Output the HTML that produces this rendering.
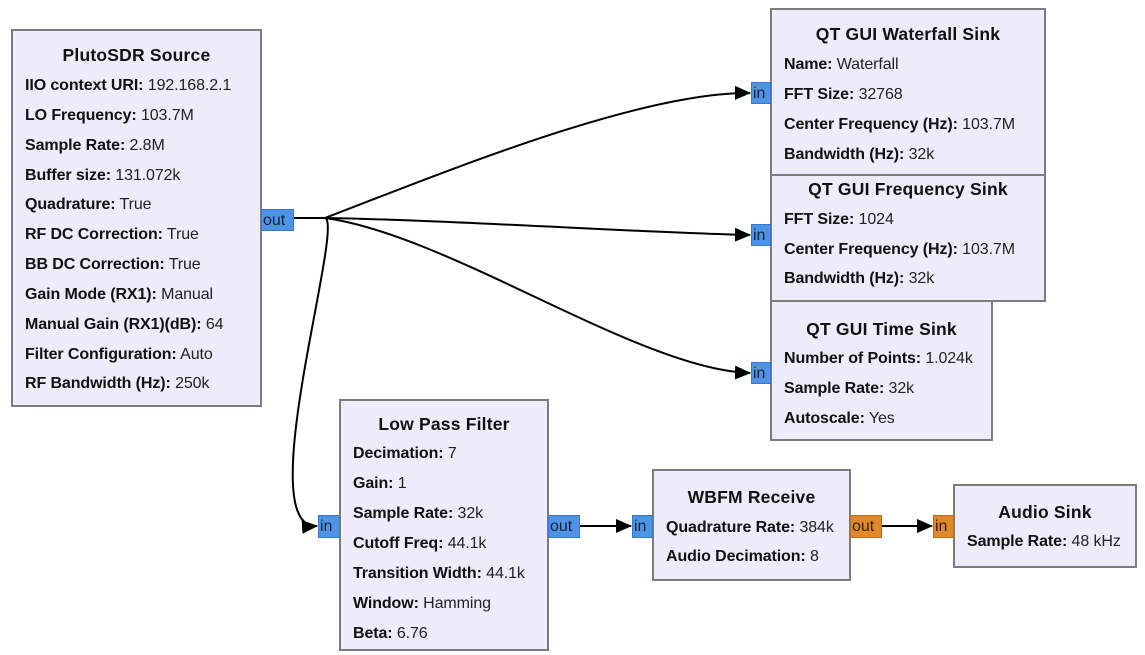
<!DOCTYPE html>
<html><head><meta charset="utf-8"><style>
body{margin:0;width:1145px;height:655px;background:#fff;position:relative;overflow:hidden;font-family:"Liberation Sans",sans-serif;color:#111}
.b{position:absolute;background:#eeebfb;border:2px solid #7c7c7c;box-sizing:border-box}
.t{position:absolute;left:0;right:0;text-align:center;font-weight:bold;font-size:17.5px;letter-spacing:0.2px}
.r{position:absolute;left:12px;font-size:16px;white-space:nowrap;color:#222;letter-spacing:-0.1px}
.r b{color:#111}
.p{position:absolute;background:#4f93e4;border:1px solid #3a78c8;box-sizing:border-box;font-size:16px;color:#15233a;line-height:21px;padding-left:1px}
.o{background:#e0892a;border-color:#b96a1a;color:#3a2000}
</style></head><body>
<svg width="1145" height="655" style="position:absolute;left:0;top:0">
<defs><marker id="a" markerWidth="16" markerHeight="14" refX="15" refY="7" orient="auto" markerUnits="userSpaceOnUse"><path d="M0,0 L16,7 L0,14 z" fill="#000"/></marker></defs>
<g fill="none" stroke="#000" stroke-width="2">
<path d="M294,218 L325,218 C450,170 640,92 750,93" marker-end="url(#a)"/>
<path d="M294,218 L325,218 C450,220 650,233 750,235" marker-end="url(#a)"/>
<path d="M294,218 L325,218 C450,235 640,370 750,373" marker-end="url(#a)"/>
<path d="M294,218 L325,218 C345,225 250,530 317,526" marker-end="url(#a)"/>
<path d="M580,526 L631,526" marker-end="url(#a)"/>
<path d="M882,526 L932,526" marker-end="url(#a)"/>
</g></svg>

<div class="b" style="left:11px;top:29px;width:251px;height:378px">
<div class="t" style="top:14px">PlutoSDR Source</div>
<div class="r" style="top:46px"><b>IIO context URI:</b> 192.168.2.1</div>
<div class="r" style="top:76px"><b>LO Frequency:</b> 103.7M</div>
<div class="r" style="top:106px"><b>Sample Rate:</b> 2.8M</div>
<div class="r" style="top:136px"><b>Buffer size:</b> 131.072k</div>
<div class="r" style="top:165px"><b>Quadrature:</b> True</div>
<div class="r" style="top:195px"><b>RF DC Correction:</b> True</div>
<div class="r" style="top:225px"><b>BB DC Correction:</b> True</div>
<div class="r" style="top:255px"><b>Gain Mode (RX1):</b> Manual</div>
<div class="r" style="top:285px"><b>Manual Gain (RX1)(dB):</b> 64</div>
<div class="r" style="top:315px"><b>Filter Configuration:</b> Auto</div>
<div class="r" style="top:344px"><b>RF Bandwidth (Hz):</b> 250k</div>
</div>
<div class="p" style="left:261px;top:209px;width:33px;height:22px">out</div>

<div class="b" style="left:770px;top:8px;width:276px;height:168px">
<div class="t" style="top:14px">QT GUI Waterfall Sink</div>
<div class="r" style="top:46px"><b>Name:</b> Waterfall</div>
<div class="r" style="top:76px"><b>FFT Size:</b> 32768</div>
<div class="r" style="top:106px"><b>Center Frequency (Hz):</b> 103.7M</div>
<div class="r" style="top:136px"><b>Bandwidth (Hz):</b> 32k</div>
</div>
<div class="p" style="left:751px;top:82px;width:20px;height:22px">in</div>

<div class="b" style="left:770px;top:174px;width:276px;height:128px">
<div class="t" style="top:3px">QT GUI Frequency Sink</div>
<div class="r" style="top:35px"><b>FFT Size:</b> 1024</div>
<div class="r" style="top:65px"><b>Center Frequency (Hz):</b> 103.7M</div>
<div class="r" style="top:94px"><b>Bandwidth (Hz):</b> 32k</div>
</div>
<div class="p" style="left:751px;top:224px;width:20px;height:22px">in</div>

<div class="b" style="left:770px;top:300px;width:223px;height:141px">
<div class="t" style="top:17px">QT GUI Time Sink</div>
<div class="r" style="top:48px"><b>Number of Points:</b> 1.024k</div>
<div class="r" style="top:78px"><b>Sample Rate:</b> 32k</div>
<div class="r" style="top:108px"><b>Autoscale:</b> Yes</div>
</div>
<div class="p" style="left:751px;top:362px;width:20px;height:22px">in</div>

<div class="b" style="left:339px;top:399px;width:210px;height:252px">
<div class="t" style="top:13px">Low Pass Filter</div>
<div class="r" style="top:44px"><b>Decimation:</b> 7</div>
<div class="r" style="top:74px"><b>Gain:</b> 1</div>
<div class="r" style="top:104px"><b>Sample Rate:</b> 32k</div>
<div class="r" style="top:134px"><b>Cutoff Freq:</b> 44.1k</div>
<div class="r" style="top:164px"><b>Transition Width:</b> 44.1k</div>
<div class="r" style="top:194px"><b>Window:</b> Hamming</div>
<div class="r" style="top:224px"><b>Beta:</b> 6.76</div>
</div>
<div class="p" style="left:318px;top:515px;width:22px;height:23px">in</div>
<div class="p" style="left:548px;top:515px;width:32px;height:23px">out</div>

<div class="b" style="left:652px;top:469px;width:199px;height:112px">
<div class="t" style="top:16px">WBFM Receive</div>
<div class="r" style="top:48px"><b>Quadrature Rate:</b> 384k</div>
<div class="r" style="top:77px"><b>Audio Decimation:</b> 8</div>
</div>
<div class="p" style="left:632px;top:515px;width:21px;height:23px">in</div>
<div class="p o" style="left:850px;top:515px;width:32px;height:23px">out</div>

<div class="b" style="left:953px;top:484px;width:184px;height:84px">
<div class="t" style="top:16px">Audio Sink</div>
<div class="r" style="top:47px"><b>Sample Rate:</b> 48 kHz</div>
</div>
<div class="p o" style="left:933px;top:515px;width:21px;height:23px">in</div>
</body></html>
